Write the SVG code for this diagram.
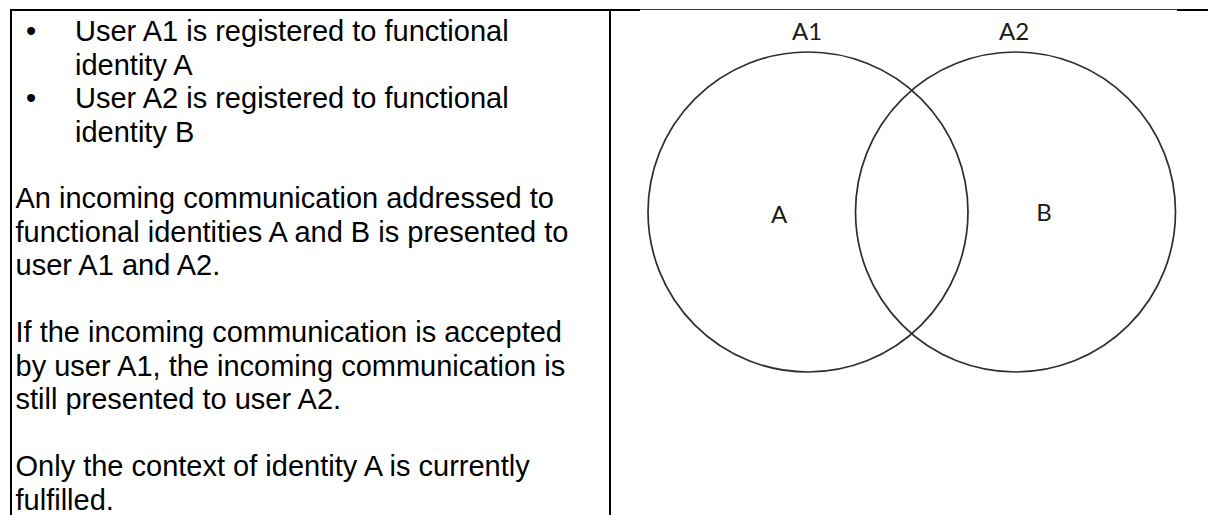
<svg xmlns="http://www.w3.org/2000/svg" width="1208" height="515" viewBox="0 0 1208 515">
  <style>
    .border { stroke: #000; stroke-width: 2; fill: none; }
    .imgedge { stroke: #3a3a3a; stroke-width: 1.2; fill: none; }
    .body { font-family: "Liberation Sans", Arial, sans-serif; font-size: 29px; fill: #000; }
    .set { fill: none; stroke: #2e2e2e; stroke-width: 1.7; }
    .lbl { font-family: Lato, "Open Sans", sans-serif; font-size: 24px; fill: #1a1a1a; text-anchor: middle; }
  </style>
  <rect width="1208" height="515" fill="#fff"/>

  <g id="table">
    <line class="border" x1="10" y1="10" x2="640" y2="10"/>
    <line class="imgedge" x1="640" y1="9.5" x2="1177" y2="9.5"/>
    <line class="border" x1="1177" y1="10" x2="1208" y2="10"/>
    <line class="border" x1="11" y1="9" x2="11" y2="515"/>
    <line class="border" x1="610" y1="9" x2="610" y2="515"/>
  </g>

  <g id="text-panel" class="body">
    <text x="26" y="41">•</text>
    <text x="75" y="41">User A1 is registered to functional</text>
    <text x="75" y="74.5">identity A</text>
    <text x="26" y="108">•</text>
    <text x="75" y="108">User A2 is registered to functional</text>
    <text x="75" y="141.5">identity B</text>
    <text x="15.5" y="208">An incoming communication addressed to</text>
    <text x="15.5" y="241.5">functional identities A and B is presented to</text>
    <text x="15.5" y="275">user A1 and A2.</text>
    <text x="15.5" y="342">If the incoming communication is accepted</text>
    <text x="15.5" y="375.5">by user A1, the incoming communication is</text>
    <text x="15.5" y="409">still presented to user A2.</text>
    <text x="15.5" y="476">Only the context of identity A is currently</text>
    <text x="15.5" y="509.5">fulfilled.</text>
  </g>

  <g id="venn">
    <g id="set-A1">
      <circle class="set" cx="808" cy="212" r="160"/>
      <text class="lbl" x="807" y="40">A1</text>
      <text class="lbl" x="779" y="223">A</text>
    </g>
    <g id="set-A2">
      <circle class="set" cx="1015.5" cy="212" r="160"/>
      <text class="lbl" x="1014" y="40">A2</text>
      <text class="lbl" x="1044" y="221">B</text>
    </g>
  </g>

  <g id="connectors"/>
</svg>
